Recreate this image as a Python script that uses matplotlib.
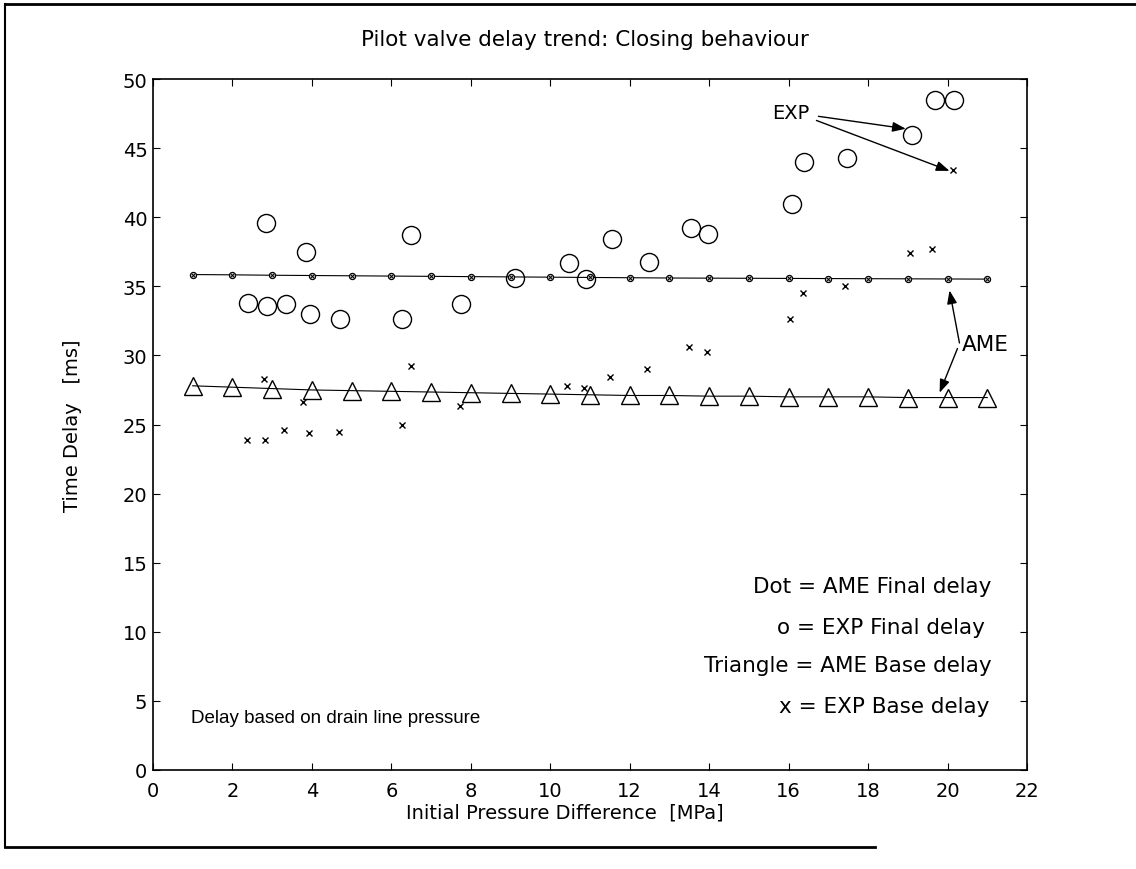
import matplotlib
matplotlib.use("Agg")
import matplotlib.pyplot as plt
from matplotlib.lines import Line2D

plt.rcParams['font.family'] = ['DejaVu Sans']

# AME simulation (integer pressure steps)
ame_p = list(range(1, 22))
ame_final = [35.85, 35.83, 35.8, 35.78, 35.76, 35.74, 35.72, 35.7, 35.68, 35.66, 35.64,
             35.62, 35.6, 35.59, 35.58, 35.57, 35.56, 35.55, 35.54, 35.53, 35.52]
ame_base = [27.8, 27.7, 27.6, 27.5, 27.45, 27.4, 27.35, 27.3, 27.25, 27.2, 27.15,
            27.1, 27.1, 27.05, 27.05, 27.0, 27.0, 27.0, 26.95, 26.95, 26.95]

# Experimental final delay (circles)
exp_final_p = [2.40, 2.85, 2.87, 3.35, 3.84, 3.96, 4.71, 6.28, 6.49, 7.75, 9.1, 10.47,
               10.89, 11.56, 12.48, 13.55, 13.98, 16.08, 16.39, 17.46, 19.1, 19.68, 20.16]
exp_final = [33.8, 39.55, 33.6, 33.7, 37.45, 32.97, 32.65, 32.65, 38.7, 33.75, 35.6, 36.65,
             35.55, 38.43, 36.75, 39.2, 38.8, 40.94, 43.98, 44.3, 45.93, 48.45, 48.45]

# Experimental base delay (x)
exp_base_p = [2.37, 2.79, 2.83, 3.29, 3.77, 3.92, 4.67, 6.26, 6.49, 7.73, 10.41, 10.86,
              11.5, 12.43, 13.5, 13.94, 16.03, 16.35, 17.42, 19.05, 19.6, 20.14]
exp_base = [23.88, 28.27, 23.88, 24.6, 26.6, 24.4, 24.45, 25.0, 29.25, 26.35, 27.78, 27.62,
            28.47, 28.99, 30.58, 30.27, 32.64, 34.55, 35.0, 37.44, 37.7, 43.4]

xticks = list(range(0, 23, 2))
yticks = list(range(0, 51, 5))

W, H = 1136, 870
fig = plt.figure(figsize=(W / 100, H / 100), dpi=100)
ax = fig.add_axes([153 / W, 1 - 771 / H, (1027 - 153) / W, (771 - 80) / H])

ax.plot(ame_p, ame_final, color='k', lw=0.8)
ax.plot(ame_p, ame_final, ls='none', marker='o', ms=4.5, mfc='0.75', mec='k', mew=0.8)
ax.plot(ame_p, ame_final, ls='none', marker='x', ms=3.5, mec='k', mew=0.7)
ax.plot(ame_p, ame_base, color='k', lw=0.8, marker='^', ms=13, mfc='none', mec='k', mew=1.0)
ax.plot(exp_final_p, exp_final, ls='none', marker='o', ms=13, mfc='none', mec='k', mew=1.0)
ax.plot(exp_base_p, exp_base, ls='none', marker='x', ms=5, mec='k', mew=1.0)

ax.set_xlim(0, 22)
ax.set_ylim(0, 50)
ax.set_xticks(xticks)
ax.set_yticks(yticks)
ax.tick_params(axis='both', direction='in', top=True, right=True, length=5, width=0.8,
               labelsize=14)
ax.tick_params(axis='x', pad=8)
ax.tick_params(axis='y', pad=4)
for s in ax.spines.values():
    s.set_linewidth(1.2)

ax.set_xlabel('Initial Pressure Difference  [MPa]', fontsize=14)
ax.xaxis.set_label_coords((565 - 153) / 874, -(33) / 691)
ax.set_ylabel('Time Delay   [ms]', fontsize=14)
ax.yaxis.set_label_coords(-(153 - 82) / 874, 0.5)
fig.text(585 / W, 1 - 40 / H, 'Pilot valve delay trend: Closing behaviour',
         ha='center', va='center', fontsize=15.5)

legend_lines = ['Dot = AME Final delay', 'o = EXP Final delay',
                'Triangle = AME Base delay', 'x = EXP Base delay']
legend_y = [13.3, 10.35, 7.6, 4.6]
legend_x = [21.1, 20.95, 21.1, 21.05]
for t, xx, yy in zip(legend_lines, legend_x, legend_y):
    ax.text(xx, yy, t, ha='right', va='center', fontsize=15.5)
ax.text(0.95, 3.8, 'Delay based on drain line pressure', ha='left', va='center',
        fontsize=13.5, family=['Liberation Sans', 'DejaVu Sans'])

arrowprops = dict(arrowstyle='-|>,head_length=0.8,head_width=0.3', color='k', lw=1.0,
                  shrinkA=0, shrinkB=0)
ax.text(16.05, 47.6, 'EXP', ha='center', va='center', fontsize=14)
ax.annotate('', xy=(18.95, 46.4), xytext=(16.75, 47.3), arrowprops=arrowprops)
ax.annotate('', xy=(20.05, 43.35), xytext=(16.7, 47.0), arrowprops=arrowprops)
ax.text(20.35, 30.8, 'AME', ha='left', va='center', fontsize=15.5)
ax.annotate('', xy=(20.05, 34.7), xytext=(20.3, 30.9), arrowprops=arrowprops)
ax.annotate('', xy=(19.8, 27.3), xytext=(20.25, 30.5), arrowprops=arrowprops)

# outer frame
fig.add_artist(Line2D([5 / W, 1.0], [1 - 5 / H, 1 - 5 / H], transform=fig.transFigure,
                      color='k', lw=2))
fig.add_artist(Line2D([5 / W, 5 / W], [1 - 5 / H, 1 - 848 / H], transform=fig.transFigure,
                      color='k', lw=1.5))
fig.add_artist(Line2D([5 / W, 875 / W], [1 - 848 / H, 1 - 848 / H], transform=fig.transFigure,
                      color='k', lw=2))

fig.savefig('out.png', dpi=100)
